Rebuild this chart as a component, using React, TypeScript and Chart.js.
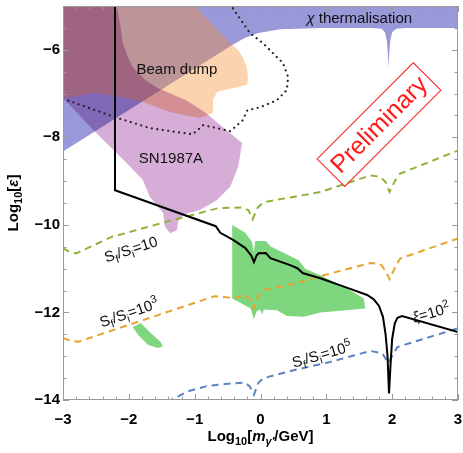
import React, { useEffect, useRef } from "react";
import { Chart, registerables } from "chart.js";

// blend plugin must be registered before the filler so that it wraps the fill
const blendPlugin = {
  id: "blendMode",
  beforeDatasetDraw(chart: any, args: any) {
    const ds = chart.data.datasets[args.index];
    if (ds && ds.blend) {
      chart.ctx.save();
      chart.ctx.globalCompositeOperation = ds.blend;
    }
  },
  afterDatasetDraw(chart: any, args: any) {
    const ds = chart.data.datasets[args.index];
    if (ds && ds.blend) chart.ctx.restore();
  },
};
Chart.register(blendPlugin as any);
Chart.register(...registerables);

// ---------- axis ticks ----------
const xTicks = [-3, -2, -1, 0, 1, 2, 3];
const yTicks = [-14, -12, -10, -8, -6];
const xMinorStep = 0.2;
const yMinorStep = 0.5;

// ---------- curves (log10 m, log10 eps) ----------
const xiCurve: [number, number][] = [
  [-2.21, -4.9], [-2.21, -9.21], [-0.68, -10.03], [-0.61, -10.18], [-0.41, -10.35],
  [-0.23, -10.53], [-0.14, -10.7], [-0.1, -10.85], [-0.06, -10.7], [-0.03, -10.65],
  [0.08, -10.64], [0.15, -10.76], [0.45, -10.92], [0.56, -10.99], [0.64, -11.1],
  [0.91, -11.22], [1.32, -11.44], [1.62, -11.6], [1.72, -11.7], [1.8, -11.85],
  [1.86, -12.1], [1.9, -12.5], [1.93, -13.0], [1.952, -13.85], [1.975, -13.2],
  [2.0, -12.6], [2.04, -12.25], [2.08, -12.12], [2.15, -12.08], [3.0, -12.45],
];

const entropy10: [number, number][] = [
  [-3, -10.53], [-2.9, -10.62], [-2.8, -10.65], [-2.27, -10.28], [-1.36, -9.9],
  [-0.65, -9.62], [-0.27, -9.6], [-0.18, -9.67], [-0.12, -9.87], [-0.04, -9.6],
  [0.05, -9.48], [0.91, -9.25], [1.67, -8.87], [1.82, -8.9], [1.9, -9.02],
  [1.96, -9.25], [2.04, -9.0], [2.12, -8.83], [3.0, -8.3],
];

const entropy1e3: [number, number][] = [
  [-3, -12.58], [-2.9, -12.64], [-2.77, -12.67], [-0.7, -11.63], [-0.4, -11.67],
  [-0.23, -11.6], [-0.16, -11.7], [-0.1, -11.9], [-0.03, -11.6], [0.05, -11.49],
  [0.6, -11.31], [0.96, -11.15], [1.67, -10.87], [1.82, -10.89], [1.9, -11.05],
  [1.96, -11.24], [2.05, -10.95], [2.12, -10.77], [3.0, -10.31],
];

const entropy1e5: [number, number][] = [
  [-1.42, -14.05], [-1.1, -13.8], [-0.81, -13.68], [-0.42, -13.62], [-0.23, -13.6],
  [-0.16, -13.7], [-0.1, -13.88], [-0.03, -13.6], [0.05, -13.5], [0.56, -13.3],
  [1.06, -13.13], [1.67, -12.88], [1.85, -12.93], [1.94, -13.15], [2.0, -13.0],
  [2.08, -12.79], [3.0, -12.36],
];

const dottedCurve: [number, number][] = [
  [-3, -7.12], [-2.21, -7.54], [-1.68, -7.79], [-1.03, -7.93], [-0.87, -7.72],
  [-0.46, -7.86], [-0.27, -7.61], [-0.2, -7.38], [0.0, -7.31], [0.25, -7.15],
  [0.4, -6.92], [0.42, -6.62], [0.34, -6.3], [0.25, -6.17], [0.04, -5.85],
  [-0.16, -5.62], [-0.43, -5.03], [-0.48, -4.9],
];

// ---------- regions ----------
const thermalRegion: [number, number][] = [
  [-3.1, -4.9], [3.1, -4.9], [3.1, -5.5], [2.2, -5.5], [2.06, -5.52], [2.0, -5.6],
  [1.97, -5.8], [1.955, -6.1], [1.945, -6.42], [1.935, -6.1], [1.92, -5.8],
  [1.89, -5.6], [1.84, -5.52], [1.7, -5.5], [0.9, -5.5], [0.3, -5.53],
  [-0.05, -5.62], [-0.24, -5.73], [-0.43, -5.89], [-3.1, -8.42],
];

const beamDumpRegion: [number, number][] = [
  [-3.1, -4.9], [-1.06, -4.9], [-0.43, -5.89], [-0.33, -6.02], [-0.27, -6.17],
  [-0.21, -6.4], [-0.19, -6.62], [-0.2, -6.8], [-0.39, -6.87], [-0.66, -6.96],
  [-0.72, -7.15], [-0.72, -7.44], [-0.92, -7.56], [-1.1, -7.51], [-1.38, -7.42],
  [-1.79, -7.19], [-2.29, -7.03], [-2.54, -6.99], [-3.0, -7.1], [-3.1, -7.1],
];

const sn1987aRegion: [number, number][] = [
  [-3.1, -4.9], [-2.18, -4.9], [-2.18, -5.0], [-2.13, -5.44], [-2.09, -5.86],
  [-2.01, -6.18], [-1.94, -6.4], [-1.76, -6.68], [-1.57, -6.87], [-1.12, -7.16],
  [-0.85, -7.42], [-0.72, -7.58], [-0.52, -7.83], [-0.28, -8.13], [-0.34, -8.68],
  [-0.46, -9.13], [-0.66, -9.43], [-0.92, -9.66], [-1.18, -9.77], [-1.25, -9.93],
  [-1.27, -10.12], [-1.375, -10.19], [-1.45, -10.04], [-1.48, -9.73], [-1.68, -9.36],
  [-1.79, -8.97], [-2.03, -8.59], [-2.54, -7.83], [-3.0, -7.1], [-3.1, -6.95],
];

const greenRegionA: [number, number][] = [
  [-0.43, -10.0], [-0.23, -10.18], [-0.13, -10.39], [-0.1, -10.62], [-0.08, -10.37],
  [0.08, -10.37], [0.15, -10.49], [0.58, -10.81], [0.68, -11.0], [0.91, -11.15],
  [1.31, -11.45], [1.57, -11.68], [1.59, -11.91], [1.31, -11.95], [0.91, -12.0],
  [0.66, -12.1], [0.4, -12.08], [0.25, -11.95], [0.05, -11.93], [0.03, -12.04],
  [-0.01, -11.93], [-0.06, -11.98], [-0.1, -12.16], [-0.15, -11.91], [-0.43, -11.68],
];

const greenRegionB: [number, number][] = [
  [-1.94, -12.33], [-1.82, -12.24], [-1.67, -12.47], [-1.52, -12.67], [-1.48, -12.77],
  [-1.56, -12.81], [-1.71, -12.74], [-1.86, -12.51],
];

// ---------- annotations ----------
type Seg = { t: string; it?: boolean; b?: boolean; sub?: boolean; sup?: boolean };

const FONT = '"Liberation Sans", Arial, Helvetica, sans-serif';

const annotations: { segs: Seg[]; x: number; y: number; angle: number; size: number; color: string }[] = [
  { segs: [{ t: "\u03c7", it: true }, { t: " thermalisation" }], x: 1.5, y: -5.27, angle: 0, size: 15, color: "#111" },
  { segs: [{ t: "Beam dump" }], x: -1.27, y: -6.43, angle: 0, size: 15, color: "#111" },
  { segs: [{ t: "SN1987A" }], x: -1.36, y: -8.46, angle: 0, size: 15, color: "#111" },
  { segs: [{ t: "S" }, { t: "f", sub: true }, { t: "/" }, { t: "S" }, { t: "i", sub: true }, { t: "=10" }], x: -1.97, y: -10.55, angle: -18, size: 15, color: "#111" },
  { segs: [{ t: "S" }, { t: "f", sub: true }, { t: "/" }, { t: "S" }, { t: "i", sub: true }, { t: "=10" }, { t: "3", sup: true }], x: -2.0, y: -12.0, angle: -19, size: 15, color: "#111" },
  { segs: [{ t: "S" }, { t: "f", sub: true }, { t: "/" }, { t: "S" }, { t: "i", sub: true }, { t: "=10" }, { t: "5", sup: true }], x: 0.93, y: -12.95, angle: -16, size: 15, color: "#111" },
  { segs: [{ t: "\u03be", it: true }, { t: "=10" }, { t: "2", sup: true }], x: 2.59, y: -12.0, angle: -16, size: 15, color: "#111" },
];

const stamp = { text: "Preliminary", x: 1.8, y: -7.71, angle: -45, size: 25, boxW: 136, boxH: 39, color: "#ff1a1a" };

const xTitle: Seg[] = [{ t: "Log" }, { t: "10", sub: true }, { t: "[" }, { t: "m", it: true }, { t: "\u03b3\u2032", sub: true, it: true }, { t: "/GeV]" }];
const yTitle: Seg[] = [{ t: "Log" }, { t: "10", sub: true }, { t: "[" }, { t: "\u03b5", it: true }, { t: "]" }];

function drawRich(ctx: CanvasRenderingContext2D, segs: Seg[], cx: number, cy: number, angleDeg: number, size: number, color: string, bold = false) {
  ctx.save();
  ctx.translate(cx, cy);
  ctx.rotate((angleDeg * Math.PI) / 180);
  ctx.fillStyle = color;
  ctx.textAlign = "left";
  ctx.textBaseline = "alphabetic";
  const fontFor = (s: Seg) =>
    `${s.it ? "italic " : ""}${s.b ?? bold ? "bold " : ""}${s.sub || s.sup ? Math.round(size * 0.7) : size}px ${FONT}`;
  const widths = segs.map((s) => {
    ctx.font = fontFor(s);
    return ctx.measureText(s.t).width;
  });
  const total = widths.reduce((a, b) => a + b, 0);
  let xx = -total / 2;
  const base = size * 0.36;
  segs.forEach((s, i) => {
    ctx.font = fontFor(s);
    const dy = s.sub ? size * 0.25 : s.sup ? -size * 0.42 : 0;
    ctx.fillText(s.t, xx, base + dy);
    xx += widths[i];
  });
  ctx.restore();
}

const decorPlugin = {
  id: "decor",
  afterDatasetsDraw(chart: any) {
    const { ctx, scales } = chart;
    const xs = scales.x;
    const ys = scales.y;
    annotations.forEach((a) => {
      drawRich(ctx, a.segs, xs.getPixelForValue(a.x), ys.getPixelForValue(a.y), a.angle, a.size, a.color);
    });
    const cx = xs.getPixelForValue(stamp.x);
    const cy = ys.getPixelForValue(stamp.y);
    ctx.save();
    ctx.translate(cx, cy);
    ctx.rotate((stamp.angle * Math.PI) / 180);
    ctx.strokeStyle = stamp.color;
    ctx.lineWidth = 1;
    ctx.strokeRect(-stamp.boxW / 2, -stamp.boxH / 2, stamp.boxW, stamp.boxH);
    ctx.fillStyle = stamp.color;
    ctx.font = `${stamp.size}px ${FONT}`;
    ctx.textAlign = "center";
    ctx.textBaseline = "middle";
    ctx.fillText(stamp.text, 0, 1);
    ctx.restore();
  },
  afterDraw(chart: any) {
    const { ctx, chartArea: a, scales } = chart;
    const xs = scales.x;
    const ys = scales.y;
    ctx.save();
    ctx.strokeStyle = "#9a9a9a";
    ctx.lineWidth = 1;
    ctx.strokeRect(a.left + 0.5, a.top + 0.5, a.right - a.left - 1, a.bottom - a.top - 1);
    ctx.beginPath();
    const majorLen = 6;
    const minorLen = 3.5;
    for (let v = xs.min; v <= xs.max + 1e-9; v += xMinorStep) {
      const vv = Math.round(v * 100) / 100;
      const isMajor = xTicks.some((t) => Math.abs(t - vv) < 1e-6);
      const len = isMajor ? majorLen : minorLen;
      const px = Math.round(xs.getPixelForValue(vv)) + 0.5;
      ctx.moveTo(px, a.bottom);
      ctx.lineTo(px, a.bottom - len);
      ctx.moveTo(px, a.top);
      ctx.lineTo(px, a.top + len);
    }
    for (let v = ys.min; v <= ys.max + 1e-9; v += yMinorStep) {
      const vv = Math.round(v * 100) / 100;
      const isMajor = yTicks.some((t) => Math.abs(t - vv) < 1e-6);
      const len = isMajor ? majorLen : minorLen;
      const py = Math.round(ys.getPixelForValue(vv)) + 0.5;
      ctx.moveTo(a.left, py);
      ctx.lineTo(a.left + len, py);
      ctx.moveTo(a.right, py);
      ctx.lineTo(a.right - len, py);
    }
    ctx.stroke();
    ctx.restore();
    drawRich(ctx, xTitle, (a.left + a.right) / 2, 436, 0, 15, "#000", true);
    drawRich(ctx, yTitle, 13, (a.top + a.bottom) / 2, -90, 15, "#000", true);
  },
};

const toPts = (arr: [number, number][]) => arr.map(([x, y]) => ({ x, y }));
const fmt = (v: any) => String(v).replace("-", "\u2212");

export default function App() {
  const ref = useRef<HTMLCanvasElement | null>(null);
  useEffect(() => {
    if (!ref.current) return;
    const region = (data: [number, number][], color: string, order: number, blend?: string) => ({
      data: toPts(data),
      showLine: true,
      fill: "shape",
      backgroundColor: color,
      borderColor: "transparent",
      borderWidth: 0,
      pointRadius: 0,
      tension: 0,
      order,
      blend,
    });
    const curve = (data: [number, number][], color: string, dash: number[], width: number, order: number, cap = "butt") => ({
      data: toPts(data),
      showLine: true,
      fill: false,
      borderColor: color,
      borderWidth: width,
      borderDash: dash,
      borderCapStyle: cap,
      pointRadius: 0,
      tension: 0,
      order,
    });
    const chart = new Chart(ref.current, {
      type: "scatter",
      data: {
        datasets: [
          region(thermalRegion, "rgba(70,70,185,0.55)", 20),
          region(beamDumpRegion, "rgba(248,140,45,0.38)", 19),
          region(sn1987aRegion, "rgba(180,105,180,0.55)", 18, "multiply"),
          region(greenRegionA, "rgb(126,214,126)", 17),
          region(greenRegionB, "rgb(126,214,126)", 16),
          curve(entropy10, "#8fb33a", [7, 5], 2, 5),
          curve(entropy1e3, "#e8a22e", [7, 5], 2, 4),
          curve(entropy1e5, "#5b83c4", [7, 5], 2, 3),
          curve(dottedCurve, "#222", [0.01, 5.5], 2.2, 2, "round"),
          curve(xiCurve, "#000", [], 2, 1),
        ] as any,
      },
      options: {
        animation: false,
        responsive: false,
        layout: { padding: { top: 6, right: 5, left: 0, bottom: 0 } },
        plugins: { legend: { display: false }, tooltip: { enabled: false } },
        scales: {
          x: {
            type: "linear",
            min: -3,
            max: 3,
            afterBuildTicks: (s: any) => {
              s.ticks = xTicks.map((v) => ({ value: v }));
            },
            afterFit: (s: any) => {
              s.height = 53;
              s.paddingLeft = 0;
              s.paddingRight = 0;
            },
            grid: { display: false, drawTicks: false },
            border: { display: false },
            ticks: { font: { family: FONT, size: 15, weight: "bold" }, color: "#000", padding: 11, callback: fmt, maxRotation: 0, autoSkip: false },
          },
          y: {
            type: "linear",
            min: -14,
            max: -5,
            afterBuildTicks: (s: any) => {
              s.ticks = yTicks.map((v) => ({ value: v }));
            },
            afterFit: (s: any) => {
              s.width = 63;
              s.paddingTop = 0;
              s.paddingBottom = 0;
            },
            grid: { display: false, drawTicks: false },
            border: { display: false },
            ticks: { font: { family: FONT, size: 15, weight: "bold" }, color: "#000", padding: 3, callback: fmt, autoSkip: false },
          },
        },
      } as any,
      plugins: [decorPlugin as any],
    });
    return () => chart.destroy();
  }, []);
  return (
    <div style={{ position: "absolute", left: 0, top: 0, width: 463, height: 453, background: "#fff" }}>
      <canvas ref={ref} width={463} height={453} style={{ width: 463, height: 453, display: "block" }} />
    </div>
  );
}
